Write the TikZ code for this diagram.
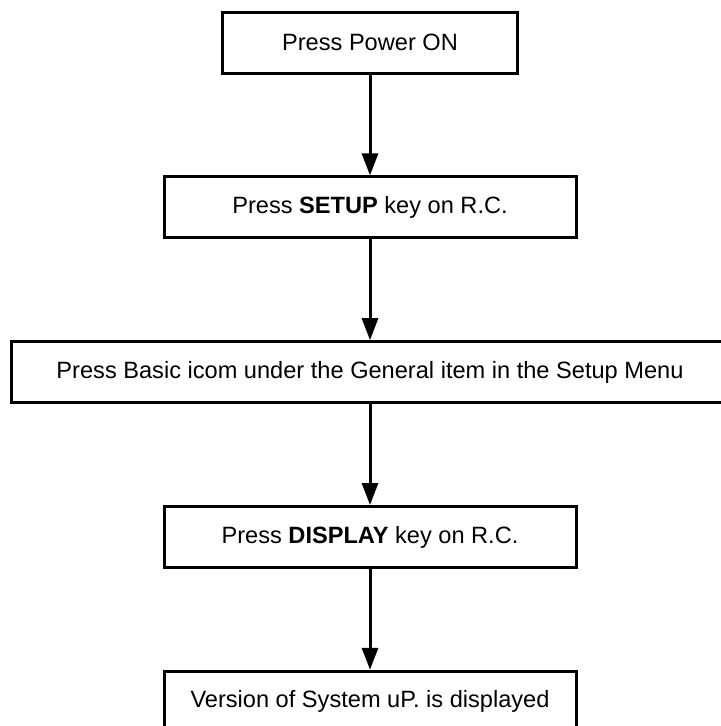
\documentclass[tikz,border=0pt]{standalone}
\usepackage{fontspec}
\setmainfont{Liberation Sans}
\usetikzlibrary{positioning,arrows.meta}
\begin{document}
\begin{tikzpicture}[x=1pt,y=1pt,
    flowBox/.style={draw, line width=1.5pt, minimum height=30.5pt, inner sep=0pt,
      font=\fontsize{11.8}{14}\selectfont},
    flowArrow/.style={line width=1.5pt, -{Triangle[length=11pt,width=8pt]}},
    node distance=50.4pt]
  \useasboundingbox (0,0) rectangle (360,-363);

  \node[flowBox, minimum width=147.5pt] (powerOn) at (185,-21.3) {Press Power ON};
  \node[flowBox, minimum width=206pt, below=of powerOn] (setupKey) {Press \textbf{SETUP} key on R.C.};
  \node[flowBox, minimum width=359pt, below=of setupKey] (basicItem) {Press Basic icom under the General item in the Setup Menu};
  \node[flowBox, minimum width=206pt, below=of basicItem] (displayKey) {Press \textbf{DISPLAY} key on R.C.};
  \node[flowBox, minimum width=206pt, below=of displayKey] (versionShown) {Version of System uP. is displayed};

  \draw[flowArrow] (powerOn) -- (setupKey);
  \draw[flowArrow] (setupKey) -- (basicItem);
  \draw[flowArrow] (basicItem) -- (displayKey);
  \draw[flowArrow] (displayKey) -- (versionShown);

\end{tikzpicture}
\end{document}
